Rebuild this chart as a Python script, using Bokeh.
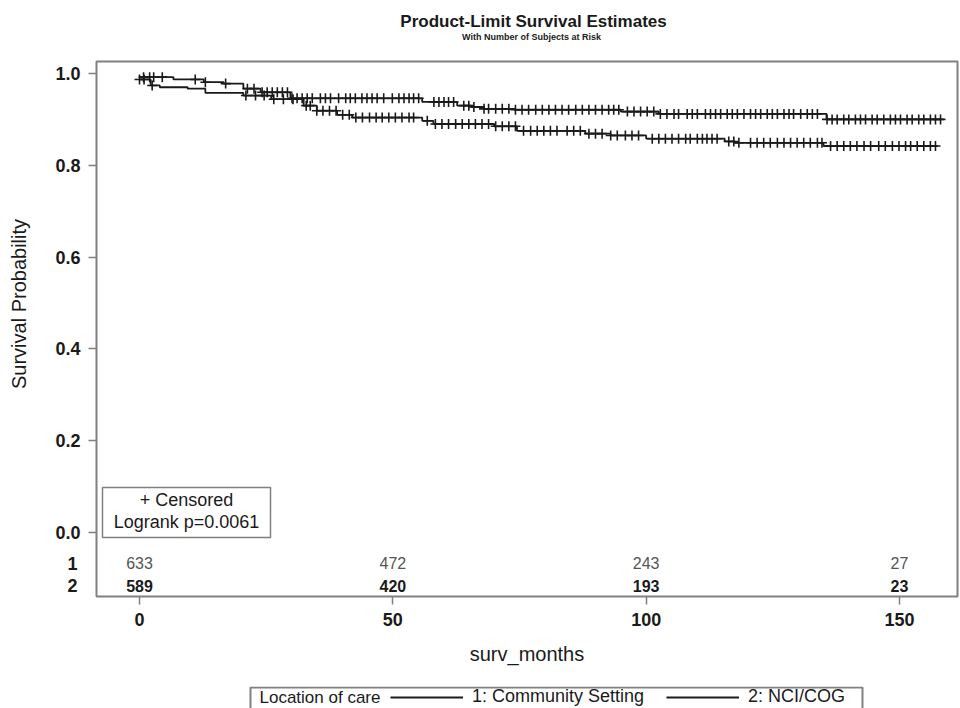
import numpy as np
from bokeh.plotting import figure
from bokeh.layouts import column
from bokeh.models import (Range1d, FixedTicker, Legend, LegendItem, PrintfTickFormatter, LinearAxis)
from bokeh.embed import file_html
from bokeh.resources import INLINE
from bokeh.core.properties import value

# ---------------- data ----------------
x_ticks = [0, 50, 100, 150]
y_ticks = [0.0, 0.2, 0.4, 0.6, 0.8, 1.0]

# Group 2: NCI/COG (upper curve)
upper_times = [0, 6.7, 12.7, 16.6, 20.5, 23.9, 29.8, 55.8, 62.7, 65.5, 68, 74, 95, 102.5, 135.6]
upper_surv = [0.992, 0.987, 0.981, 0.978, 0.967, 0.959, 0.946, 0.938, 0.930, 0.927, 0.923, 0.921, 0.917, 0.912, 0.900]
upper_end = 158.7
upper_censor = [0.8, 2.0, 2.8, 4.5, 11.0, 13.0, 17.0, 21.3, 22.6, 24.2, 25.2, 26.2, 27.2, 28.2, 29.2, 30.1,
                31.1, 32.1, 33.1, 34.1, 35.7, 36.7, 37.7, 39.3, 40.7, 41.6, 42.6, 43.9, 44.9, 45.9, 46.9, 48.2,
                49.9, 51.2, 52.2, 53.2, 54.1, 55.1, 58.1, 59.1, 60.1, 61.0, 62.0, 64.0, 65.0, 66.0, 68.0, 68.9,
                70.3, 71.6, 72.9, 74.2, 75.5, 76.8, 78.2, 79.5, 80.8, 82.1, 83.4, 84.7, 86.1, 87.4, 88.7, 90.0,
                91.3, 92.6, 93.6, 94.6, 96.3, 97.6, 98.9, 100.2, 101.5, 102.8, 104.1, 105.5, 106.4, 108.1, 109.1,
                110.1, 111.7, 112.7, 113.7, 114.7, 116.0, 117.0, 118.0, 119.3, 120.6, 121.6, 122.6, 123.9, 124.9,
                125.9, 127.2, 128.2, 129.1, 130.5, 131.8, 132.8, 133.8, 135.7, 136.7, 137.7, 139.0, 140.0, 141.3,
                142.3, 143.3, 144.6, 145.6, 146.9, 148.2, 149.2, 150.2, 151.5, 152.5, 153.8, 154.8, 156.1, 157.1,
                158.1]

# Group 1: Community Setting (lower curve)
lower_times = [0, 2.2, 4, 9.5, 13, 20.5, 26, 32.4, 35, 39, 42, 55.8, 58, 70, 74.5, 88, 93, 100, 115.5, 117.5, 135]
lower_surv = [0.987, 0.974, 0.970, 0.967, 0.958, 0.952, 0.944, 0.930, 0.919, 0.910, 0.904, 0.897, 0.890, 0.885,
              0.875, 0.869, 0.865, 0.858, 0.852, 0.849, 0.842]
lower_end = 157.5
lower_censor = [0.0, 0.9, 2.5, 21.0, 22.9, 24.6, 26.5, 28.4, 30.3, 32.9, 33.7, 35.0, 36.2, 37.5, 38.8, 40.1,
                41.4, 42.7, 44.0, 45.4, 46.7, 47.9, 49.2, 50.5, 51.8, 53.2, 54.1, 56.8, 58.4, 59.7, 61.0, 62.4,
                63.7, 65.0, 66.3, 67.6, 68.9, 70.3, 71.6, 72.9, 74.2, 75.8, 77.2, 78.5, 79.8, 81.1, 82.4, 84.4,
                85.7, 87.0, 88.7, 90.0, 91.3, 93.0, 94.3, 95.9, 97.2, 98.5, 101.2, 102.5, 103.8, 105.1, 106.4,
                107.8, 108.7, 110.1, 111.1, 112.0, 113.0, 114.0, 116.3, 117.3, 118.3, 120.6, 121.9, 123.2, 124.5,
                125.9, 127.2, 128.5, 129.8, 131.1, 132.4, 133.8, 134.7, 136.4, 137.7, 139.0, 140.3, 141.6, 143.0,
                144.3, 145.9, 147.2, 148.6, 149.9, 151.2, 152.2, 153.5, 154.8, 156.1, 157.1]

risk_times = [0, 50, 100, 150]
risk_group1 = [633, 472, 243, 27]
risk_group2 = [589, 420, 193, 23]

group_labels = ["1", "2"]
legend_title = "Location of care"
legend_labels = ["1: Community Setting", "2: NCI/COG"]
title_text = "Product-Limit Survival Estimates"
subtitle_text = "With Number of Subjects at Risk"
censor_text = "+ Censored"
logrank_text = "Logrank p=0.0061"
x_label = "surv_months"
y_label = "Survival Probability"

# ---------------- layout (page pixels) ----------------
PAGE_W = 960
TOP_H = 57          # title strip
LEG_H = 22          # legend strip (cut by the page edge, as in the original)
MAIN_H = 708 - TOP_H - LEG_H
FRAME_L, FRAME_R, FRAME_T, FRAME_B = 96, 957, 61, 596
X0, X1 = -8.487, 161.45
Y0, Y1 = -0.13943, 1.02614
FONT = "Liberation Sans"
INK = "#1a1a1a"
GRAY = "#808080"


def dx(sx):  # page pixel -> data x
    return X0 + (sx - FRAME_L) / (FRAME_R - FRAME_L) * (X1 - X0)


def dy(sy):  # page pixel -> data y
    return Y1 - (sy - FRAME_T) / (FRAME_B - FRAME_T) * (Y1 - Y0)


def strip(height, y_bottom, y_top):
    f = figure(width=PAGE_W, height=height, x_range=Range1d(X0, X1), y_range=Range1d(y_bottom, y_top),
               output_backend="svg", toolbar_location=None, x_axis_location=None, y_axis_location=None,
               min_border_left=FRAME_L, min_border_right=PAGE_W - FRAME_R,
               min_border_top=0, min_border_bottom=0)
    f.outline_line_color = None
    f.grid.visible = False
    return f


# ---------------- title strip (y in page pixels) ----------------
pt = strip(TOP_H, TOP_H, 0)
pt.text([dx(533)], [21], text=[title_text], text_align="center", text_baseline="middle",
        text_font=value(FONT), text_font_size="17px", text_font_style="bold", text_color=INK)
pt.text([dx(531)], [36], text=[subtitle_text], text_align="center", text_baseline="middle",
        text_font=value(FONT), text_font_size="9px", text_font_style="bold", text_color=INK)

# ---------------- main plot ----------------
p = figure(width=PAGE_W, height=MAIN_H, x_range=Range1d(X0, X1), y_range=Range1d(Y0, Y1),
           output_backend="svg", toolbar_location=None,
           min_border_left=FRAME_L, min_border_right=PAGE_W - FRAME_R,
           min_border_top=FRAME_T - TOP_H, min_border_bottom=TOP_H + MAIN_H - FRAME_B)
p.grid.visible = False
p.outline_line_color = GRAY
p.outline_line_width = 2
p.background_fill_color = "white"
p.border_fill_color = "white"

# x axis
xa = p.xaxis[0]
xa.ticker = FixedTicker(ticks=x_ticks)
xa.axis_line_color = None
xa.major_tick_line_color = GRAY
xa.major_tick_line_width = 1.5
xa.major_tick_out = 8
xa.major_tick_in = 0
xa.minor_tick_line_color = None
xa.major_label_text_font = FONT
xa.major_label_text_font_size = "18px"
xa.major_label_text_font_style = "bold"
xa.major_label_text_color = INK
xa.major_label_standoff = 8
xa.axis_label = x_label
xa.axis_label_text_font = FONT
xa.axis_label_text_font_size = "20px"
xa.axis_label_text_font_style = "normal"
xa.axis_label_text_color = INK
xa.axis_label_standoff = 14

# inner y axis: probability ticks and labels
ya = p.yaxis[0]
ya.ticker = FixedTicker(ticks=y_ticks)
ya.formatter = PrintfTickFormatter(format="%.1f")
ya.axis_line_color = None
ya.major_tick_line_color = GRAY
ya.major_tick_line_width = 1.5
ya.major_tick_out = 8
ya.major_tick_in = 0
ya.minor_tick_line_color = None
ya.major_label_text_font = FONT
ya.major_label_text_font_size = "18px"
ya.major_label_text_font_style = "bold"
ya.major_label_text_color = INK
ya.major_label_standoff = 8

# outer y axis: risk-table group labels (pulled back under the inner labels) + axis title
row_ticks = [round(dy(563), 4), round(dy(585), 4)]
yl = LinearAxis(ticker=FixedTicker(ticks=row_ticks),
                major_label_overrides={row_ticks[0]: group_labels[0], row_ticks[1]: group_labels[1]})
yl.axis_line_color = None
yl.major_tick_line_color = None
yl.major_tick_out = 0
yl.major_tick_in = 0
yl.minor_tick_line_color = None
yl.major_label_text_font = FONT
yl.major_label_text_font_size = "18px"
yl.major_label_text_font_style = "bold"
yl.major_label_text_color = INK
yl.major_label_standoff = -25
# non-breaking spaces shift the centred title up to the middle of the 0-1 scale, as in the original
yl.axis_label = "\u00a0" * 9 + y_label
yl.axis_label_text_font = FONT
yl.axis_label_text_font_size = "20px"
yl.axis_label_text_font_style = "normal"
yl.axis_label_text_color = INK
yl.axis_label_standoff = 34
p.add_layout(yl, "left")


def surv_at(times, surv, t):
    idx = np.searchsorted(np.asarray(times), np.asarray(t), side="right") - 1
    return np.asarray(surv)[idx]


for times, surv, end, cens in [(lower_times, lower_surv, lower_end, lower_censor),
                               (upper_times, upper_surv, upper_end, upper_censor)]:
    xs = list(times) + [end]
    ys = list(surv) + [surv[-1]]
    p.step(xs, ys, mode="after", line_color=INK, line_width=1.8)
    p.scatter(cens, surv_at(times, surv, cens), marker="cross", size=10,
              line_color=INK, line_width=1.6)

# risk table inside frame
p.text(risk_times, [row_ticks[0]] * 4, text=[str(v) for v in risk_group1], text_align="center",
       text_baseline="middle", text_font=value(FONT), text_font_size="16px", text_color="#555555")
p.text(risk_times, [row_ticks[1]] * 4, text=[str(v) for v in risk_group2], text_align="center",
       text_baseline="middle", text_font=value(FONT), text_font_size="16px", text_font_style="bold",
       text_color=INK)

# censored / logrank box
p.quad(left=[dx(102)], right=[dx(270)], top=[dy(487)], bottom=[dy(537)],
       fill_color="white", line_color=GRAY, line_width=1.5)
p.text([dx(186)], [dy(499)], text=[censor_text], text_align="center", text_baseline="middle",
       text_font=value(FONT), text_font_size="18px", text_color=INK)
p.text([dx(186)], [dy(521)], text=[logrank_text], text_align="center", text_baseline="middle",
       text_font=value(FONT), text_font_size="18px", text_color=INK)

# ---------------- legend strip (y in page pixels) ----------------
pl = strip(LEG_H, 708, 708 - LEG_H)
pl.quad(left=[dx(250)], right=[dx(862)], top=[687], bottom=[725], fill_color="white",
        line_color=GRAY, line_width=2)
pl.text([dx(259)], [697], text=[legend_title], text_align="left", text_baseline="middle",
        text_font=value(FONT), text_font_size="17px", text_color=INK)
# sample renderers for the legend keys (kept outside the visible strip)
r1 = pl.line([X0 - 20, X0 - 10], [0, 0], line_color=INK, line_width=1.8)
r2 = pl.line([X0 - 20, X0 - 10], [0, 0], line_color=INK, line_width=1.8)
legend = Legend(items=[LegendItem(label=legend_labels[0], renderers=[r1]),
                       LegendItem(label=legend_labels[1], renderers=[r2])],
                orientation="horizontal", location=(390 - FRAME_L, 1), padding=0, spacing=22, margin=0,
                glyph_width=73, glyph_height=20, label_height=20, label_standoff=9,
                label_text_font=FONT, label_text_font_size="18px", label_text_color=INK,
                border_line_color=None, background_fill_alpha=0)
pl.add_layout(legend)

layout = column(pt, p, pl, spacing=0)
open("out.html", "w").write(file_html(layout, INLINE))
